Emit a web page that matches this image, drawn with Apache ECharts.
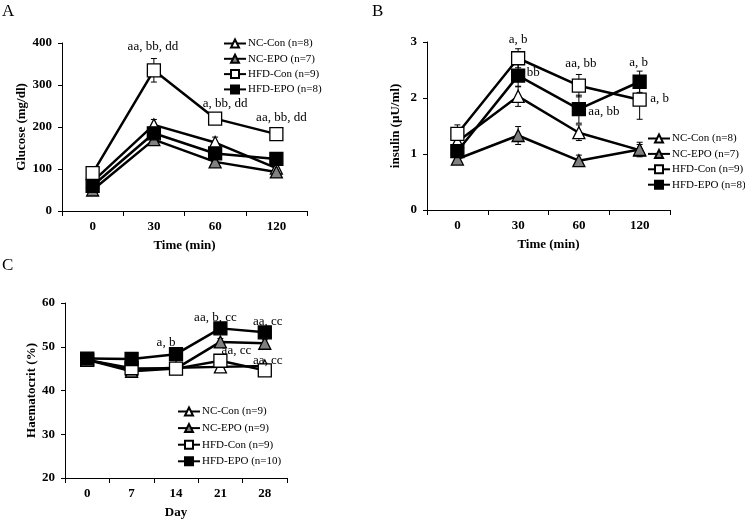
<!DOCTYPE html>
<html><head><meta charset="utf-8">
<script src="https://cdn.jsdelivr.net/npm/echarts@6/dist/echarts.min.js"></script>
<style>html,body{margin:0;padding:0;background:#fff}#c{width:745px;height:520px}</style>
</head><body><div id="c"></div>
<script>
// ---------- DATA ----------
const groups = ['NC-Con', 'NC-EPO', 'HFD-Con', 'HFD-EPO'];
const nGlucose = ['(n=8)', '(n=7)', '(n=9)', '(n=8)'];
const nInsulin = ['(n=8)', '(n=7)', '(n=9)', '(n=8)'];
const nHct = ['(n=9)', '(n=9)', '(n=9)', '(n=10)'];

const timeCats = ['0', '30', '60', '120'];
const dayCats = ['0', '7', '14', '21', '28'];

const gluTicks = [0, 100, 200, 300, 400];
const insTicks = [0, 1, 2, 3];
const hctTicks = [20, 30, 40, 50, 60];

// Glucose (mg/dl)
const gluNCCon = [70, 205, 163, 102];
const gluNCEPO = [50, 170, 117, 93];
const gluHFDCon = [90, 335, 220, 183];
const gluHFDEPO = [60, 185, 137, 124];
const gluErrNCCon = [6, 13, 13, 8];
const gluErrNCEPO = [5, 8, 8, 6];
const gluErrHFDCon = [8, 28, 8, 8];
const gluErrHFDEPO = [6, 10, 10, 8];

// Insulin (µU/ml)
const insNCCon = [1.22, 2.03, 1.38, 1.07];
const insNCEPO = [0.91, 1.33, 0.88, 1.08];
const insHFDCon = [1.36, 2.71, 2.22, 1.97];
const insHFDEPO = [1.05, 2.40, 1.80, 2.29];
const insErrNCCon = [0.1, 0.18, 0.14, 0.1];
const insErrNCEPO = [0.06, 0.16, 0.1, 0.13];
const insErrHFDCon = [0.16, 0.17, 0.2, 0.35];
const insErrHFDEPO = [0.1, 0.2, 0.25, 0.19];

// Haematocrit (%)
const hctNCCon = [47.0, 44.8, 45.2, 45.4, 45.6];
const hctNCEPO = [47.0, 44.4, 45.0, 51.1, 50.8];
const hctHFDCon = [47.0, 45.1, 45.0, 46.8, 44.6];
const hctHFDEPO = [47.3, 47.2, 48.3, 54.2, 53.3];
const hctErrNCCon = [0.5, 0.6, 0.8, 0.6, 0.6];
const hctErrNCEPO = [0.5, 0.5, 0.5, 0.8, 0.8];
const hctErrHFDCon = [0.5, 0.5, 0.5, 0.8, 0.5];
const hctErrHFDEPO = [0.5, 0.5, 0.6, 0.6, 0.7];

// Annotations: [group index, point index, text]
const annotGlu = [[2, 1, 'aa, bb, dd'], [2, 2, 'a, bb, dd'], [2, 3, 'aa, bb, dd']];
const annotIns = [[2, 1, 'a, b'], [3, 1, 'bb'], [2, 2, 'aa, bb'], [3, 2, 'aa, bb'], [3, 3, 'a, b'], [2, 3, 'a, b']];
const annotHct = [[3, 2, 'a, b'], [3, 3, 'aa, b, cc'], [3, 4, 'aa, cc'], [2, 3, 'aa, cc'], [2, 4, 'aa, cc']];

// ---------- LAYOUT (pixel offsets of annotation labels) ----------
const offGlu = [[-1, -24], [10, -15], [5, -17]];
const offIns = [[0, -19], [15, -3], [2, -22], [25, 2], [-1, -19], [20, -1]];
const offHct = [[-10, -12], [-5, -11], [3, -11], [16, -10], [3, -10]];

const FONT = 'Liberation Serif';
const styles = [
  { symbol: 'triangle', fill: '#ffffff', size: 12 },
  { symbol: 'triangle', fill: '#808080', size: 12 },
  { symbol: 'rect', fill: '#ffffff', size: 13 },
  { symbol: 'rect', fill: '#000000', size: 13 }
];

function buildPanel(p, idx, values, errs, ns, annots, offs) {
  const out = [];
  values.forEach((vals, g) => {
    // error bars
    out.push({
      type: 'custom', name: p + 'err' + g, xAxisIndex: idx, yAxisIndex: idx, z: 1,
      silent: true,
      data: vals.map((v, i) => [i, v - errs[g][i], v + errs[g][i]]),
      renderItem: function (params, api) {
        const lo = api.coord([api.value(0), api.value(1)]);
        const hi = api.coord([api.value(0), api.value(2)]);
        const w = 3;
        const st = { stroke: '#000', lineWidth: 1 };
        return { type: 'group', children: [
          { type: 'line', shape: { x1: lo[0], y1: lo[1], x2: hi[0], y2: hi[1] }, style: st },
          { type: 'line', shape: { x1: lo[0] - w, y1: lo[1], x2: lo[0] + w, y2: lo[1] }, style: st },
          { type: 'line', shape: { x1: hi[0] - w, y1: hi[1], x2: hi[0] + w, y2: hi[1] }, style: st }
        ]};
      }
    });
  });
  values.forEach((vals, g) => {
    const s = styles[g];
    const data = vals.map((v, i) => {
      const item = { value: v };
      annots.forEach((a, k) => {
        if (a[0] === g && a[1] === i) {
          item.label = { show: true, position: 'inside', formatter: a[2], offset: offs[k],
            color: '#000', fontFamily: FONT, fontSize: 13, align: 'center', verticalAlign: 'middle' };
        }
      });
      return item;
    });
    out.push({
      type: 'line', name: p + '|' + groups[g] + ' ' + ns[g], xAxisIndex: idx, yAxisIndex: idx, z: 3,
      data: data, symbol: s.symbol, symbolSize: s.size, showAllSymbol: true,
      lineStyle: { color: '#000', width: 2.5 },
      itemStyle: { color: s.fill, borderColor: '#000', borderWidth: 1.3 },
      label: { show: false },
      emphasis: { disabled: true },
      animation: false
    });
  });
  return out;
}

const series = [].concat(
  buildPanel('A', 0, [gluNCCon, gluNCEPO, gluHFDCon, gluHFDEPO], [gluErrNCCon, gluErrNCEPO, gluErrHFDCon, gluErrHFDEPO], nGlucose, annotGlu, offGlu),
  buildPanel('B', 1, [insNCCon, insNCEPO, insHFDCon, insHFDEPO], [insErrNCCon, insErrNCEPO, insErrHFDCon, insErrHFDEPO], nInsulin, annotIns, offIns),
  buildPanel('C', 2, [hctNCCon, hctNCEPO, hctHFDCon, hctHFDEPO], [hctErrNCCon, hctErrNCEPO, hctErrHFDCon, hctErrHFDEPO], nHct, annotHct, offHct)
);

function xAx(idx, cats, name, gap) {
  return {
    type: 'category', gridIndex: idx, data: cats, boundaryGap: true,
    name: name, nameLocation: 'middle', nameGap: gap,
    nameTextStyle: { fontFamily: FONT, fontWeight: 'bold', fontSize: 13, color: '#000' },
    axisLine: { lineStyle: { color: '#000', width: 1 } },
    axisTick: { show: true, length: 5, lineStyle: { color: '#000' } },
    axisLabel: { fontFamily: FONT, fontWeight: 'bold', fontSize: 13, color: '#000', margin: 9 },
    splitLine: { show: false }
  };
}
function yAx(idx, ticks, name, gap) {
  return {
    type: 'value', gridIndex: idx, min: ticks[0], max: ticks[ticks.length - 1],
    interval: ticks[1] - ticks[0],
    name: name, nameLocation: 'middle', nameGap: gap,
    nameTextStyle: { fontFamily: FONT, fontWeight: 'bold', fontSize: 13, color: '#000' },
    axisLine: { show: true, lineStyle: { color: '#000', width: 1 } },
    axisTick: { show: true, length: 4, lineStyle: { color: '#000' } },
    axisLabel: { fontFamily: FONT, fontWeight: 'bold', fontSize: 13, color: '#000', margin: 10 },
    splitLine: { show: false }
  };
}
function leg(p, ns, left, top, gap) {
  return {
    data: groups.map((g, i) => p + '|' + g + ' ' + ns[i]),
    formatter: n => n.split('|')[1],
    orient: 'vertical', left: left, top: top, itemWidth: 22, itemHeight: 10, itemGap: gap,
    selectedMode: false, padding: 0,
    textStyle: { fontFamily: FONT, fontSize: 11, color: '#000', lineHeight: 10, padding: [0, 0, 0, -3] }
  };
}

const chart = echarts.init(document.getElementById('c'), null, { renderer: 'canvas' });
chart.setOption({
  backgroundColor: '#ffffff',
  animation: false,
  title: [
    { text: 'A', left: 2, top: 3, padding: 0, textStyle: { fontFamily: FONT, fontWeight: 'normal', fontSize: 17, color: '#000' } },
    { text: 'B', left: 372, top: 3, padding: 0, textStyle: { fontFamily: FONT, fontWeight: 'normal', fontSize: 17, color: '#000' } },
    { text: 'C', left: 2, top: 257, padding: 0, textStyle: { fontFamily: FONT, fontWeight: 'normal', fontSize: 17, color: '#000' } }
  ],
  grid: [
    { left: 62, top: 43, width: 245, height: 168 },
    { left: 427, top: 42, width: 243, height: 168 },
    { left: 65, top: 303, width: 222, height: 176 }
  ],
  xAxis: [
    xAx(0, timeCats, 'Time (min)', 28),
    xAx(1, timeCats, 'Time (min)', 28),
    xAx(2, dayCats, 'Day', 28)
  ],
  yAxis: [
    yAx(0, gluTicks, 'Glucose (mg/dl)', 30),
    yAx(1, insTicks, 'insulin (\u00b5U/ml)', 25),
    yAx(2, hctTicks, 'Haematocrit (%)', 24)
  ],
  legend: [
    leg('A', nGlucose, 223, 38, 4.3),
    leg('B', nInsulin, 647, 133, 4.4),
    leg('C', nHct, 177, 406, 5.6)
  ],
  series: series
});
</script>
</body></html>
